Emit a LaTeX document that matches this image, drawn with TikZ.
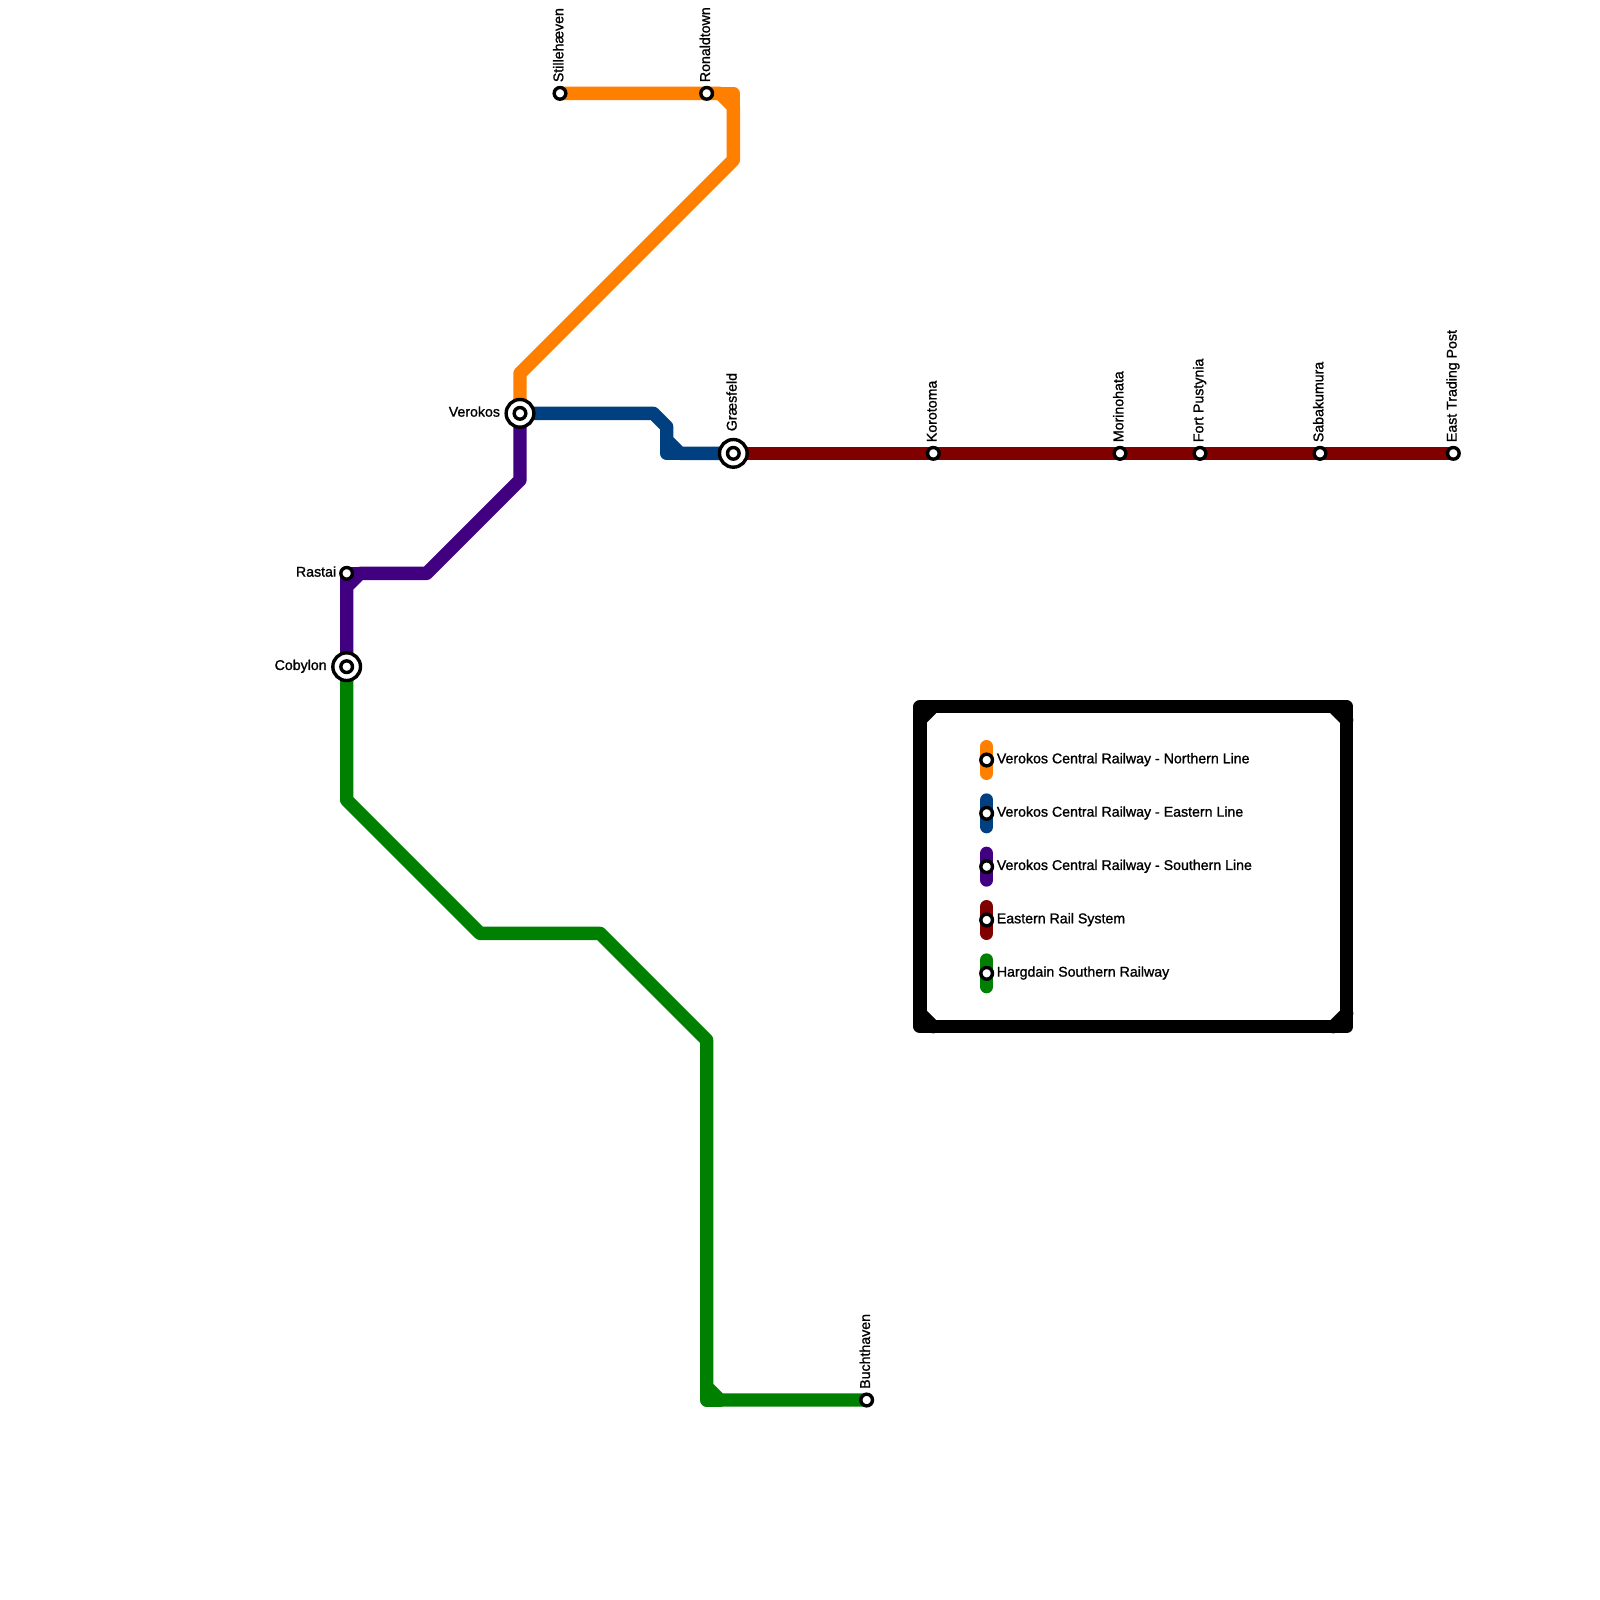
\documentclass[tikz,border=0pt]{standalone}
\usepackage{fontspec}
\setmainfont{Liberation Sans}[FakeBold=1.2]
\definecolor{northorange}{HTML}{FF8000}
\definecolor{eastblue}{HTML}{004080}
\definecolor{southpurple}{HTML}{400080}
\definecolor{railred}{HTML}{800000}
\definecolor{hargdaingreen}{HTML}{008000}
\tikzset{
  railline/.style={line width=0.13333cm,line cap=round,line join=round},
  stop/.style={circle,draw=black,fill=white,line width=0.034cm,minimum size=0.1167cm,inner sep=0pt},
  interchange/.style={circle,draw=black,fill=white,line width=0.034cm,minimum size=0.277cm,inner sep=0pt},
  labeltext/.style={inner sep=0pt,font=\fontsize{4.03}{5}\selectfont},
  toplabel/.style={labeltext,xshift=0.94pt,yshift=3pt,rotate=90,anchor=base west},
  bigtoplabel/.style={labeltext,xshift=0.94pt,yshift=6.1pt,rotate=90,anchor=base west},
  leftlabel/.style={labeltext,xshift=-2.8pt,yshift=-0.94pt,anchor=base east},
  bigleftlabel/.style={labeltext,xshift=-5.5pt,yshift=-0.94pt,anchor=base east},
  keylabel/.style={labeltext,xshift=2.7pt,yshift=-0.94pt,anchor=base west}
}
\begin{document}
\begin{tikzpicture}[x=0.13333cm,y=-0.13333cm]
\useasboundingbox (0,0) rectangle (120,120);
% station positions
\coordinate (stillehaeven) at (42,7);
\coordinate (ronaldtown) at (53,7);
\coordinate (verokos) at (39,31);
\coordinate (graesfeld) at (55,34);
\coordinate (rastai) at (26,43);
\coordinate (cobylon) at (26,50);
\coordinate (buchthaven) at (65,105);
\coordinate (korotoma) at (70,34);
\coordinate (morinohata) at (84,34);
\coordinate (fortpustynia) at (90,34);
\coordinate (sabakumura) at (99,34);
\coordinate (easttrading) at (109,34);
% lines
\draw[railline,northorange] (stillehaeven) -- (ronaldtown) -- (54,7) -- (55,8) -- (55,12) -- (39,28) -- (verokos);
\draw[railline,northorange] (54,7) -- (55,7) -- (55,8);
\draw[railline,eastblue] (verokos) -- (49,31) -- (50,32) -- (50,33) -- (51,34) -- (graesfeld);
\draw[railline,eastblue] (50,33) -- (50,34) -- (51,34);
\draw[railline,southpurple] (verokos) -- (39,36) -- (32,43) -- (27,43) -- (26,44) -- (cobylon);
\draw[railline,southpurple] (27,43) -- (rastai) -- (26,44);
\draw[railline,railred] (graesfeld) -- (korotoma) -- (morinohata) -- (fortpustynia) -- (sabakumura) -- (easttrading);
\draw[railline,hargdaingreen] (cobylon) -- (26,60) -- (36,70) -- (45,70) -- (53,78) -- (53,104) -- (54,105) -- (buchthaven);
\draw[railline,hargdaingreen] (53,104) -- (53,105) -- (54,105);
% key frame
\draw[railline,black] (69,53) rectangle (101,77);
\draw[railline,black] (69,54) -- (70,53);
\draw[railline,black] (100,53) -- (101,54);
\draw[railline,black] (101,76) -- (100,77);
\draw[railline,black] (70,77) -- (69,76);
% key swatches
\coordinate (keyorangetop) at (74,56);
\coordinate (keyorangeend) at (74,58);
\coordinate (keybluetop) at (74,60);
\coordinate (keyblueend) at (74,62);
\coordinate (keypurpletop) at (74,64);
\coordinate (keypurpleend) at (74,66);
\coordinate (keyredtop) at (74,68);
\coordinate (keyredend) at (74,70);
\coordinate (keygreentop) at (74,72);
\coordinate (keygreenend) at (74,74);
\draw[railline,northorange] (keyorangetop) -- (keyorangeend);
\draw[railline,eastblue] (keybluetop) -- (keyblueend);
\draw[railline,southpurple] (keypurpletop) -- (keypurpleend);
\draw[railline,railred] (keyredtop) -- (keyredend);
\draw[railline,hargdaingreen] (keygreentop) -- (keygreenend);
% stations
\node[stop] (stillehaevenstop) at (stillehaeven) {};
\node[stop] (ronaldtownstop) at (ronaldtown) {};
\node[stop] (rastaistop) at (rastai) {};
\node[stop] (buchthavenstop) at (buchthaven) {};
\node[stop] (korotomastop) at (korotoma) {};
\node[stop] (morinohatastop) at (morinohata) {};
\node[stop] (fortpustyniastop) at (fortpustynia) {};
\node[stop] (sabakumurastop) at (sabakumura) {};
\node[stop] (easttradingstop) at (easttrading) {};
\node[interchange] (verokosring) at (verokos) {};
\node[stop] (verokosstop) at (verokos) {};
\node[interchange] (graesfeldring) at (graesfeld) {};
\node[stop] (graesfeldstop) at (graesfeld) {};
\node[interchange] (cobylonring) at (cobylon) {};
\node[stop] (cobylonstop) at (cobylon) {};
\node[stop] (keyorangestop) at (74,57) {};
\node[stop] (keybluestop) at (74,61) {};
\node[stop] (keypurplestop) at (74,65) {};
\node[stop] (keyredstop) at (74,69) {};
\node[stop] (keygreenstop) at (74,73) {};
% labels
\node[toplabel] (stillehaevenname) at (stillehaeven) {Stillehæven};
\node[toplabel] (ronaldtownname) at (ronaldtown) {Ronaldtown};
\node[bigtoplabel] (graesfeldname) at (graesfeld) {Græsfeld};
\node[toplabel] (korotomaname) at (korotoma) {Korotoma};
\node[toplabel] (morinohataname) at (morinohata) {Morinohata};
\node[toplabel] (fortpustynianame) at (fortpustynia) {Fort Pustynia};
\node[toplabel] (sabakumuraname) at (sabakumura) {Sabakumura};
\node[toplabel] (easttradingname) at (easttrading) {East Trading Post};
\node[toplabel] (buchthavenname) at (buchthaven) {Buchthaven};
\node[bigleftlabel] (verokosname) at (verokos) {Verokos};
\node[leftlabel] (rastainame) at (rastai) {Rastai};
\node[bigleftlabel] (cobylonname) at (cobylon) {Cobylon};
\node[keylabel] (keyorangename) at (keyorangestop) {Verokos Central Railway - Northern Line};
\node[keylabel] (keybluename) at (keybluestop) {Verokos Central Railway - Eastern Line};
\node[keylabel] (keypurplename) at (keypurplestop) {Verokos Central Railway - Southern Line};
\node[keylabel] (keyredname) at (keyredstop) {Eastern Rail System};
\node[keylabel] (keygreenname) at (keygreenstop) {Hargdain Southern Railway};
\end{tikzpicture}
\end{document}
